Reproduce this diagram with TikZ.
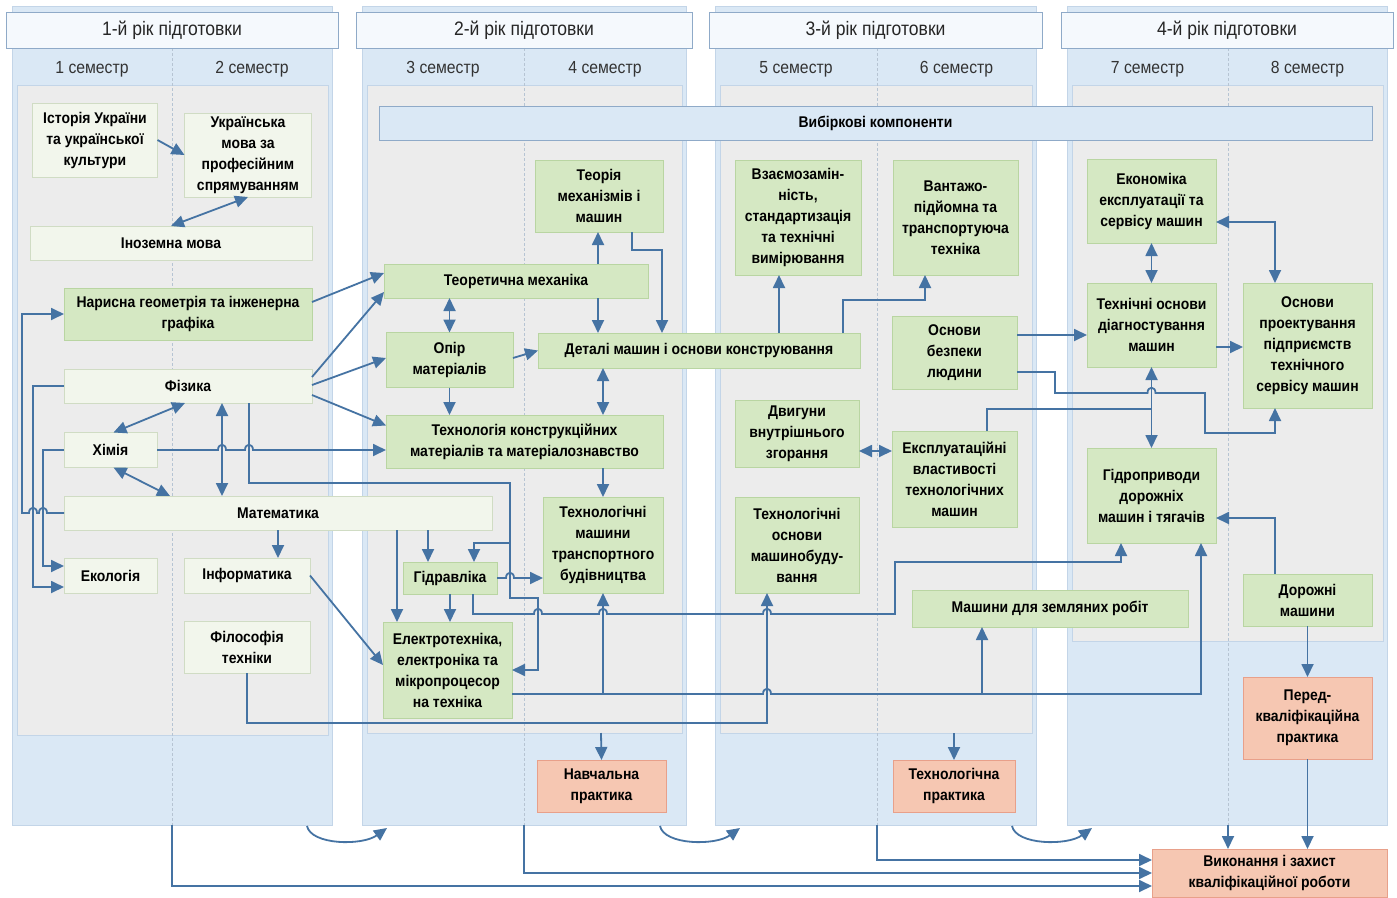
\documentclass[tikz,border=0pt]{standalone}
\usepackage{fontspec}
\setmainfont{Liberation Sans}[FakeStretch=0.9]
\usetikzlibrary{arrows.meta}

\definecolor{colblue}{HTML}{DAE8F5}
\definecolor{colgray}{HTML}{ECECEC}
\definecolor{colline}{HTML}{C3D5E8}
\definecolor{headfill}{HTML}{F5F9FD}
\definecolor{headline}{HTML}{8FAAC8}
\definecolor{grfill}{HTML}{D5E8C3}
\definecolor{grline}{HTML}{B9D5A2}
\definecolor{ltfill}{HTML}{F2F6EC}
\definecolor{ltline}{HTML}{D0DCC4}
\definecolor{pkfill}{HTML}{F6C7B2}
\definecolor{pkline}{HTML}{E8A08A}
\definecolor{arrcol}{HTML}{4573A3}

% small bump where a line jumps over another one
\newcommand{\hopr}[2]{-- (#1-4,#2) .. controls (#1-4,#2-7) and (#1+4,#2-7) .. (#1+4,#2)}
\newcommand{\hopl}[2]{-- (#1+4,#2) .. controls (#1+4,#2-7) and (#1-4,#2-7) .. (#1-4,#2)}

\tikzset{
  box/.style={draw, line width=0.8pt, align=center, inner sep=0pt, outer sep=0pt,
    font=\fontsize{15.5}{21}\selectfont\bfseries},
  gbox/.style={box, draw=grline, fill=grfill},
  lbox/.style={box, draw=ltline, fill=ltfill},
  pbox/.style={box, draw=pkline, fill=pkfill},
  wh/.style 2 args={minimum width=#1, minimum height=#2},
  headtxt/.style={font=\fontsize{19.5}{22}\selectfont, text=black!85},
  semtxt/.style={font=\fontsize{17.5}{20}\selectfont, text=black!80},
  divline/.style={colline!80!gray, densely dashed, line width=0.6pt},
  ln/.style={draw=arrcol, line width=1.8pt},
  arr/.style={ln, -{Triangle[length=13pt, width=12pt]}},
  darr/.style={ln, {Triangle[length=13pt, width=12pt]}-{Triangle[length=13pt, width=12pt]}},
}

\begin{document}
\begin{tikzpicture}[x=1pt, y=-1pt]

    \useasboundingbox (0,0) rectangle (1397,897);
    \fill[white] (0,0) rectangle (1397,897);

    % years and semesters
    \foreach \xl/\xr/\dv/\ib/\n in {12/332/172/735/1, 362/686/524/733/2, 715/1036/877/733/3, 1067/1387/1228/641/4}
    {
        \draw[colline, fill=colblue] (\xl,6) rectangle (\xr,825);
        \draw[colline, fill=colgray] (\xl+5,85) rectangle (\xr-4,\ib);
        \draw[divline] (\dv,48) -- (\dv,825);
        \draw[headline, fill=headfill, line width=1pt] (\xl-6,12) rectangle (\xr+6,48);
        \node[headtxt] (year\n) at ({(\xl+\xr)/2},30) {\n-й рік підготовки};
        \pgfmathtruncatemacro{\sa}{2*\n-1}
        \pgfmathtruncatemacro{\sb}{2*\n}
        \node[semtxt] (sem\sa) at ({(\xl+\dv)/2},69) {\sa{} семестр};
        \node[semtxt] (sem\sb) at ({(\dv+\xr)/2},69) {\sb{} семестр};
    }

    \node[box, draw=headline, fill=colblue, wh={993}{34}] (vybir) at (875.5,123) {Вибіркові компоненти};

    % 1st year
    \node[lbox, wh={125}{74}] (ist) at (95,140) {Історія України\\та української\\культури};
    \node[lbox, wh={127}{84}] (ukr) at (248,155) {Українська\\мова за\\професійним\\спрямуванням};
    \node[lbox, wh={282}{34}] (inoz) at (171,243) {Іноземна мова};
    \node[gbox, wh={248}{52}] (naris) at (188,314) {Нарисна геометрія та інженерна\\графіка};
    \node[lbox, wh={248}{34}] (fiz) at (188,386) {Фізика};
    \node[lbox, wh={93}{35}] (khim) at (110.5,450) {Хімія};
    \node[lbox, wh={428}{34}] (mat) at (278,513) {Математика};
    \node[lbox, wh={93}{35}] (ekol) at (110.5,575.5) {Екологія};
    \node[lbox, wh={126}{35}] (inf) at (247,575.5) {Інформатика};
    \node[lbox, wh={126}{52}] (filos) at (247,647) {Філософія\\техніки};

    % 2nd year
    \node[gbox, wh={128}{72}] (tmm) at (599,196) {Теорія\\механізмів і\\машин};
    \node[gbox, wh={264}{34}] (teormeh) at (516,281) {Теоретична механіка};
    \node[gbox, wh={127}{55}] (opir) at (449.5,360) {Опір\\матеріалів};
    \node[gbox, wh={322}{35}] (detali) at (699,350.5) {Деталі машин і основи конструювання};
    \node[gbox, wh={277}{53}] (tkm) at (524.5,441.5) {Технологія конструкційних\\матеріалів та матеріалознавство};
    \node[gbox, wh={120}{96}] (tmtb) at (603,545) {Технологічні\\машини\\транспортного\\будівництва};
    \node[gbox, wh={94}{32}] (gidr) at (450,578) {Гідравліка};
    \node[gbox, wh={129}{96}] (elektr) at (447.5,670) {Електротехніка,\\електроніка та\\мікропроцесор\\на техніка};
    \node[pbox, wh={129}{52}] (navch) at (601.5,786) {Навчальна\\практика};

    % 3rd year
    \node[gbox, wh={126}{115}] (vzaem) at (798,217.5) {Взаємозамін-\\ність,\\стандартизація\\та технічні\\вимірювання};
    \node[gbox, wh={125}{115}] (vantazh) at (955.5,217.5) {Вантажо-\\підйомна та\\транспортуюча\\техніка};
    \node[gbox, wh={125}{73}] (obzh) at (954.5,352.5) {Основи\\безпеки\\людини};
    \node[gbox, wh={124}{67}] (dvz) at (797,433.5) {Двигуни\\внутрішнього\\згорання};
    \node[gbox, wh={125}{96}] (ekspl) at (954.5,479) {Експлуатаційні\\властивості\\технологічних\\машин};
    \node[gbox, wh={124}{96}] (tomb) at (797,545) {Технологічні\\основи\\машинобуду-\\вання};
    \node[gbox, wh={276}{37}] (zeml) at (1050,608.5) {Машини для земляних робіт};
    \node[pbox, wh={122}{52}] (tekhpr) at (954,786) {Технологічна\\практика};

    % 4th year
    \node[gbox, wh={129}{84}] (ekon) at (1151.5,201) {Економіка\\експлуатації та\\сервісу машин};
    \node[gbox, wh={129}{84}] (diagn) at (1151.5,325) {Технічні основи\\діагностування\\машин};
    \node[gbox, wh={129}{125}] (proekt) at (1307.5,345.5) {Основи\\проектування\\підприємств\\технічного\\сервісу машин};
    \node[gbox, wh={129}{95}] (gidropr) at (1151.5,495.5) {Гідроприводи\\дорожніх\\машин і тягачів};
    \node[gbox, wh={129}{52}] (dorozh) at (1307.5,600) {Дорожні\\машини};
    \node[pbox, wh={129}{82}] (peredkv) at (1307.5,718) {Перед-\\кваліфікаційна\\практика};
    \node[pbox, wh={235}{48}] (vykon) at (1269.5,873) {Виконання і захист\\кваліфікаційної роботи};

    % links, 1st year
    \draw[arr] (ist.east) -- (ukr.west);
    \draw[darr] (ukr.south) -- (inoz.north);
    \draw[arr] ([yshift=12pt]naris.east) -- ([yshift=8pt]teormeh.west);
    \draw[arr] ([yshift=9pt]fiz.east) -- ([yshift=-11pt]teormeh.west);
    \draw[arr] ([yshift=1pt]fiz.east) -- ([yshift=2pt]opir.west);
    \draw[arr] ([yshift=-9pt]fiz.east) -- ([yshift=16pt]tkm.west);
    \draw[darr] ([xshift=-3pt]fiz.south) -- ([xshift=3pt]khim.north);
    \draw[darr] ([xshift=3pt]khim.south) -- (mat.north -| 170,0);
    \draw[darr] (fiz.south -| 222,0) -- (mat.north -| 222,0);
    \draw[arr] (mat.south -| 278,0) -- (inf.north -| 278,0);
    \draw[arr] (fiz.west) -| (33,587) -- (ekol.west |- 0,587);
    \draw[arr] (khim.west) -| (43,566) -- (ekol.west |- 0,566);
    \draw[arr] (mat.west) \hopl{43}{513} \hopl{33}{513} -- (22,513) |- (naris.west);
    \draw[arr] (khim.east) \hopr{222}{450} \hopr{249}{450} -- (tkm.west |- khim.east);
    \draw[arr] (inf.east) -- ([yshift=5pt]elektr.west);
    \draw[arr] (fiz.south -| 249,0) |- (510,483) |- (538,598) |- (elektr.east);
    \coordinate (jg) at (510,543);
    \draw[arr] (jg) -| ([xshift=24pt]gidr.north);
    \draw[arr] (mat.south -| 428,0) -- (gidr.north -| 428,0);
    \draw[arr] (mat.south -| 397,0) -- (elektr.north -| 397,0);
    \draw[arr] (filos.south) |- (767,723) -- (tomb.south -| 767,0);

    % links, 2nd year
    \draw[darr] (teormeh.south -| opir.north) -- (opir.north);
    \draw[arr] (teormeh.south -| 598,0) -- (detali.north -| 598,0);
    \draw[arr] (teormeh.north -| 598,0) -- (tmm.south -| 598,0);
    \draw[arr] (tmm.south -| 632,0) |- (662,250) -- (detali.north -| 662,0);
    \draw[arr] ([yshift=2pt]opir.east) -- (detali.west);
    \draw[arr] (opir.south) -- (tkm.north -| opir.south);
    \draw[darr] (detali.south -| 603,0) -- (tkm.north -| 603,0);
    \draw[arr] (tkm.south -| 603,0) -- (tmtb.north);
    \draw[arr] (gidr.south) -- (elektr.north -| gidr.south);
    \draw[arr] (gidr.east) \hopr{510}{578} -- (tmtb.west |- gidr.east);
    \draw[arr] ([xshift=23pt]gidr.south) -- (473,614) \hopr{538}{614} \hopr{603}{614} \hopr{767}{614}
        -- (895,614) -- (895,562) -- (1121,562) -- (gidropr.south -| 1121,0);
    \draw[arr] (elektr.east |- 0,694) \hopr{767}{694} -- (1201,694) -- (gidropr.south -| 1201,0);
    \coordinate (je1) at (603,694);
    \coordinate (je2) at (982,694);
    \draw[arr] (je1) -- (tmtb.south);
    \draw[arr] (je2) -- (zeml.south -| je2);

    % links, 3rd year
    \draw[arr] (detali.north -| 779,0) -- (vzaem.south -| 779,0);
    \draw[arr] (detali.north -| 843,0) |- (925,300) -- (vantazh.south -| 925,0);
    \draw[darr] (dvz.east |- 0,451) -- (ekspl.west |- 0,451);
    \draw[ln] (ekspl.north -| 987,0) |- (diagn.south |- 0,409);
    \draw[arr] (obzh.east |- 0,335) -- (diagn.west |- 0,335);
    \draw[arr] (obzh.east |- 0,372) -- (1055,372) -- (1055,393) \hopr{1151.5}{393} -- (1205,393)
        -- (1205,433) -- (1275,433) -- (proekt.south -| 1275,0);

    % links, 4th year
    \draw[darr] (diagn.south) -- (gidropr.north);
    \draw[darr] (ekon.south) -- (diagn.north);
    \draw[darr] (ekon.east |- 0,222) -| (proekt.north -| 1275,0);
    \draw[arr] (diagn.east |- 0,347) -- (proekt.west |- 0,347);
    \draw[arr] (dorozh.north -| 1275,0) |- (gidropr.east |- 0,518);
    \draw[arr] (dorozh.south) -- (peredkv.north);
    \draw[arr] (peredkv.south) -- (vykon.north -| peredkv.south);

    % practice and final work
    \coordinate (b2) at (601,733);
    \coordinate (b3) at (954,733);
    \coordinate (d4) at (1228,825);
    \draw[arr] (b2) -- (navch.north);
    \draw[arr] (b3) -- (tekhpr.north);
    \draw[arr] (d4) -- (vykon.north -| d4);

    \foreach \s in {0, 353, 705}
        \draw[arr] (307+\s,826) .. controls (311+\s,845) and (362+\s,846) .. (387+\s,828);

    \draw[arr] (877,825) |- (vykon.west |- 0,860);
    \draw[arr] (524,825) |- (vykon.west |- 0,873);
    \draw[arr] (172,825) |- (vykon.west |- 0,886);

\end{tikzpicture}
\end{document}
